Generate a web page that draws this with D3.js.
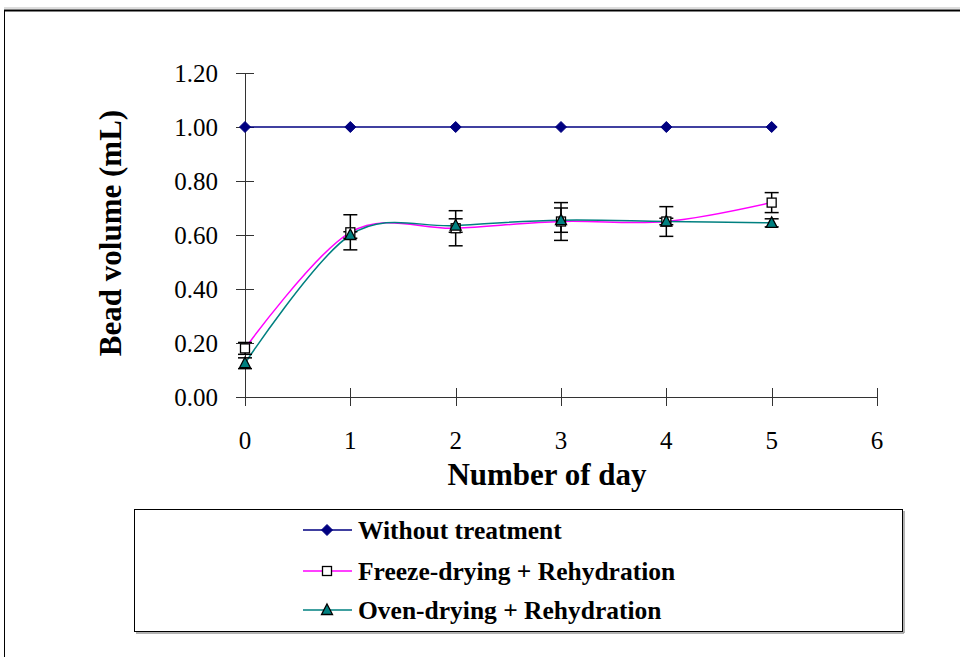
<!DOCTYPE html>
<html>
<head>
<meta charset="utf-8">
<script src="https://cdn.jsdelivr.net/npm/d3@7"></script>
<style>
  html, body { margin: 0; padding: 0; background: #fff; }
  svg { display: block; }
</style>
</head>
<body>
<script>
// Days of storage
const days = [0, 1, 2, 3, 4, 5];
// Mean bead volume (mL) for each treatment
const withoutTreatment = [1.00, 1.00, 1.00, 1.00, 1.00, 1.00];
const freezeDrying = [0.18, 0.61, 0.625, 0.65, 0.65, 0.72];
const ovenDrying = [0.125, 0.60, 0.635, 0.655, 0.65, 0.645];
// Error bar half-widths (mL)
const freezeErr = [0.022, 0.065, 0.065, 0.07, 0.055, 0.037];
const ovenErr = [0.02, 0.012, 0.025, 0.045, 0.012, 0.015];
// Axis ticks
const yTicks = [0, 0.2, 0.4, 0.6, 0.8, 1.0, 1.2];
const xTicks = [0, 1, 2, 3, 4, 5, 6];
const seriesNames = ["Without treatment", "Freeze-drying + Rehydration", "Oven-drying + Rehydration"];

const W = 960, H = 657;
const svg = d3.select("body").append("svg").attr("width", W).attr("height", H);
const font = "'Liberation Serif', 'Times New Roman', serif";

// Outer chart frame
svg.append("line").attr("x1", 4).attr("x2", W).attr("y1", 8).attr("y2", 8)
  .attr("stroke", "#bbb").attr("stroke-width", 1);
svg.append("line").attr("x1", 4).attr("x2", W).attr("y1", 10.5).attr("y2", 10.5)
  .attr("stroke", "#000").attr("stroke-width", 2);
svg.append("line").attr("x1", 4.5).attr("x2", 4.5).attr("y1", 10).attr("y2", H)
  .attr("stroke", "#000").attr("stroke-width", 1);

const x = d3.scaleLinear().domain([0, 6]).range([245, 877]);
const y = d3.scaleLinear().domain([0, 1.2]).range([397, 73]);

// Axes with crossing tick marks
const axisColor = "#333";
const yAxisG = svg.append("g");
yAxisG.append("line").attr("x1", x(0) + 0.5).attr("x2", x(0) + 0.5)
  .attr("y1", y(1.2)).attr("y2", y(0)).attr("stroke", axisColor);
yAxisG.selectAll("line.tick").data(yTicks).join("line").attr("class", "tick")
  .attr("x1", x(0) - 9).attr("x2", x(0) + 9)
  .attr("y1", d => Math.round(y(d)) + 0.5).attr("y2", d => Math.round(y(d)) + 0.5)
  .attr("stroke", axisColor);
yAxisG.selectAll("text").data(yTicks).join("text")
  .attr("x", 218).attr("y", d => y(d)).attr("dy", "0.35em")
  .attr("text-anchor", "end").attr("font-family", font).attr("font-size", 25)
  .text(d3.format(".2f"));

const xAxisG = svg.append("g");
xAxisG.append("line").attr("x1", x(0)).attr("x2", x(6))
  .attr("y1", y(0) + 0.5).attr("y2", y(0) + 0.5).attr("stroke", axisColor);
xAxisG.selectAll("line.tick").data(xTicks).join("line").attr("class", "tick")
  .attr("x1", d => Math.round(x(d)) + 0.5).attr("x2", d => Math.round(x(d)) + 0.5)
  .attr("y1", y(0) - 9).attr("y2", y(0) + 9).attr("stroke", axisColor);
xAxisG.selectAll("text").data(xTicks).join("text")
  .attr("x", d => x(d)).attr("y", 449)
  .attr("text-anchor", "middle").attr("font-family", font).attr("font-size", 25)
  .text(d => d);

// Axis titles
svg.append("text").attr("transform", "translate(121,233) rotate(-90)")
  .attr("text-anchor", "middle").attr("font-family", font).attr("font-size", 31)
  .attr("font-weight", "bold").text("Bead volume (mL)");
svg.append("text").attr("x", 547).attr("y", 485)
  .attr("text-anchor", "middle").attr("font-family", font).attr("font-size", 31)
  .attr("font-weight", "bold").text("Number of day");

const navy = "#000080", magenta = "#FF00FF", teal = "#008080";

const smooth = d3.line().x(d => x(d[0])).y(d => y(d[1])).curve(d3.curveCardinal.tension(0));
const straight = d3.line().x(d => x(d[0])).y(d => y(d[1]));

const pts = arr => days.map((d, i) => [d, arr[i]]);

// Series lines
svg.append("path").attr("d", straight(pts(withoutTreatment)))
  .attr("fill", "none").attr("stroke", navy).attr("stroke-width", 1.5);
svg.append("path").attr("d", smooth(pts(freezeDrying)))
  .attr("fill", "none").attr("stroke", magenta).attr("stroke-width", 1.5);
svg.append("path").attr("d", smooth(pts(ovenDrying)))
  .attr("fill", "none").attr("stroke", teal).attr("stroke-width", 1.5);

// Error bars
function errorBars(vals, errs) {
  const g = svg.append("g").attr("stroke", "#000").attr("stroke-width", 1.5);
  days.forEach((d, i) => {
    const cx = x(d), lo = y(vals[i] - errs[i]), hi = y(vals[i] + errs[i]);
    g.append("line").attr("x1", cx).attr("x2", cx).attr("y1", lo).attr("y2", hi);
    g.append("line").attr("x1", cx - 7).attr("x2", cx + 7).attr("y1", lo).attr("y2", lo);
    g.append("line").attr("x1", cx - 7).attr("x2", cx + 7).attr("y1", hi).attr("y2", hi);
  });
}
errorBars(freezeDrying, freezeErr);
errorBars(ovenDrying, ovenErr);

// Marker shapes
function drawDiamond(g, cx, cy) {
  g.append("path").attr("d", "M0,-5.5L5.5,0L0,5.5L-5.5,0Z")
    .attr("transform", `translate(${cx},${cy})`).attr("fill", navy).attr("stroke", navy);
}
function drawSquare(g, cx, cy) {
  g.append("rect").attr("x", cx - 4.5).attr("y", cy - 4.5).attr("width", 9).attr("height", 9)
    .attr("fill", "#fff").attr("stroke", "#000").attr("stroke-width", 1.3);
}
function drawTriangle(g, cx, cy) {
  g.append("path").attr("d", "M0,-6L5.5,4.5L-5.5,4.5Z")
    .attr("transform", `translate(${cx},${cy})`).attr("fill", teal)
    .attr("stroke", "#000").attr("stroke-width", 1.3);
}

const mk = svg.append("g");
days.forEach((d, i) => drawDiamond(mk, x(d), y(withoutTreatment[i])));
days.forEach((d, i) => drawSquare(mk, x(d), y(freezeDrying[i])));
days.forEach((d, i) => drawTriangle(mk, x(d), y(ovenDrying[i])));

// Legend
const lg = svg.append("g");
lg.append("rect").attr("x", 134.5).attr("y", 509.5).attr("width", 768).attr("height", 122)
  .attr("fill", "#fff").attr("stroke", "#000").attr("stroke-width", 1);
lg.append("line").attr("x1", 136).attr("x2", 904).attr("y1", 633).attr("y2", 633)
  .attr("stroke", "#999").attr("stroke-width", 1.5);
lg.append("line").attr("x1", 904).attr("x2", 904).attr("y1", 511).attr("y2", 633)
  .attr("stroke", "#999").attr("stroke-width", 1.5);
const rowY = [530, 571, 610];
const colors = [navy, magenta, teal];
const drawers = [drawDiamond, drawSquare, drawTriangle];
seriesNames.forEach((name, i) => {
  lg.append("line").attr("x1", 303).attr("x2", 352).attr("y1", rowY[i]).attr("y2", rowY[i])
    .attr("stroke", colors[i]).attr("stroke-width", 1.5);
  drawers[i](lg, 327, rowY[i]);
  lg.append("text").attr("x", 358).attr("y", rowY[i]).attr("dy", "0.35em")
    .attr("font-family", font).attr("font-size", 25.5).attr("font-weight", "bold").text(name);
});
</script>
</body>
</html>
